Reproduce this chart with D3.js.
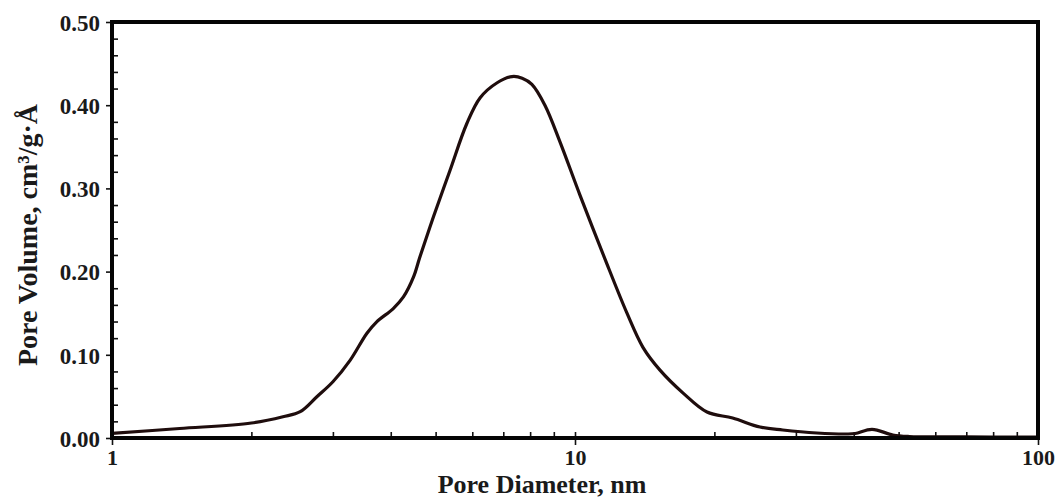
<!DOCTYPE html>
<html>
<head>
<meta charset="utf-8">
<script src="https://cdn.jsdelivr.net/npm/d3@7"></script>
<style>
  html, body { margin: 0; padding: 0; background: #fff; }
  svg { display: block; }
  text { font-family: "Liberation Serif", "Times New Roman", serif; font-weight: bold; fill: #1a1a1a; }
</style>
</head>
<body>
<svg id="chart" width="1057" height="499"></svg>
<script>
// ---- data ----
const diameters = [1.0, 1.40, 2.0, 2.34, 2.55, 2.77, 3.0, 3.27, 3.55, 3.73, 4.05, 4.26, 4.48, 4.62, 4.94, 5.37, 5.84, 6.24, 6.79, 7.31, 7.69, 8.07, 8.61, 9.28, 10.25, 11.61, 12.95, 14.02, 15.26, 17.12, 19.28, 21.9, 25.1, 28.1, 33.3, 38.7, 40.3, 43.8, 48.6, 52.8, 65, 80, 100];
const poreVolume = [0.0056, 0.0114, 0.018, 0.0256, 0.0316, 0.0496, 0.0676, 0.0936, 0.1256, 0.1396, 0.1556, 0.1696, 0.1936, 0.217, 0.265, 0.3216, 0.378, 0.409, 0.427, 0.4344, 0.4325, 0.425, 0.400, 0.356, 0.292, 0.215, 0.150, 0.109, 0.0816, 0.054, 0.0312, 0.024, 0.0132, 0.0096, 0.006, 0.0048, 0.0054, 0.0104, 0.0036, 0.0018, 0.0014, 0.0012, 0.0012];
const xMajorTicks = [1, 10, 100];
const xMinorTicks = [2, 3, 4, 5, 6, 7, 8, 9, 20, 30, 40, 50, 60, 70, 80, 90];
const yMajorTicks = [0, 0.1, 0.2, 0.3, 0.4, 0.5];
const yMinorTicks = [0.02, 0.04, 0.06, 0.08, 0.12, 0.14, 0.16, 0.18, 0.22, 0.24, 0.26, 0.28, 0.32, 0.34, 0.36, 0.38, 0.42, 0.44, 0.46, 0.48];
const xTitle = "Pore Diameter, nm";
const yTitle = "Pore Volume, cm³/g·Å";

// ---- layout ----
const L = 112, R = 1038, T = 22, B = 438;
const svg = d3.select("#chart");

const x = d3.scaleLog().domain([1, 100]).range([L, R]);
const y = d3.scaleLinear().domain([0, 0.5]).range([B, T]);

// minor ticks inside (x: upward)
svg.append("g")
  .attr("transform", `translate(0,${B})`)
  .call(d3.axisTop(x).tickValues(xMinorTicks.concat(xMajorTicks)).tickSize(6).tickFormat(""))
  .call(g => g.select(".domain").remove())
  .call(g => g.selectAll("line").attr("stroke", "#111").attr("stroke-width", 1.6));

// major x ticks downward with labels
svg.append("g")
  .attr("transform", `translate(0,${B})`)
  .call(d3.axisBottom(x).tickValues(xMajorTicks).tickSize(7).tickPadding(4).tickFormat(d3.format("d")))
  .call(g => g.select(".domain").remove())
  .call(g => g.selectAll("line").attr("stroke", "#111").attr("stroke-width", 1.6))
  .call(g => g.selectAll("text").attr("font-size", 22).attr("fill", "#1a1a1a")
      .style("font-family", "'Liberation Serif', serif").style("font-weight", "bold"));

// y minor ticks inside (to the right)
svg.append("g")
  .attr("transform", `translate(${L},0)`)
  .call(d3.axisRight(y).tickValues(yMinorTicks).tickSize(6).tickFormat(""))
  .call(g => g.select(".domain").remove())
  .call(g => g.selectAll("line").attr("stroke", "#111").attr("stroke-width", 1.6));

// y major ticks outside with labels
svg.append("g")
  .attr("transform", `translate(${L},0)`)
  .call(d3.axisLeft(y).tickValues(yMajorTicks).tickSize(6).tickPadding(6).tickFormat(d3.format(".2f")))
  .call(g => g.select(".domain").remove())
  .call(g => g.selectAll("line").attr("stroke", "#111").attr("stroke-width", 1.6))
  .call(g => g.selectAll("text").attr("font-size", 23).attr("dy", "0.36em").attr("fill", "#1a1a1a")
      .style("font-family", "'Liberation Serif', serif").style("font-weight", "bold"));

// curve
const data = diameters.map((d, i) => ({ d, v: poreVolume[i] }));
const line = d3.line()
  .x(p => x(p.d))
  .y(p => y(p.v))
  .curve(d3.curveCatmullRom.alpha(0.5));

svg.append("path")
  .datum(data)
  .attr("d", line)
  .attr("fill", "none")
  .attr("stroke", "#1f0d0d")
  .attr("stroke-width", 3.2)
  .attr("stroke-linejoin", "round");

// frame
svg.append("rect")
  .attr("x", L).attr("y", T)
  .attr("width", R - L).attr("height", B - T)
  .attr("fill", "none")
  .attr("stroke", "#050505")
  .attr("stroke-width", 4);

// titles
svg.append("text")
  .attr("x", 542).attr("y", 493)
  .attr("text-anchor", "middle")
  .attr("font-size", 26)
  .text(xTitle);

svg.append("text")
  .attr("transform", "translate(37,235) rotate(-90)")
  .attr("text-anchor", "middle")
  .attr("font-size", 28)
  .text(yTitle);
</script>
</body>
</html>
